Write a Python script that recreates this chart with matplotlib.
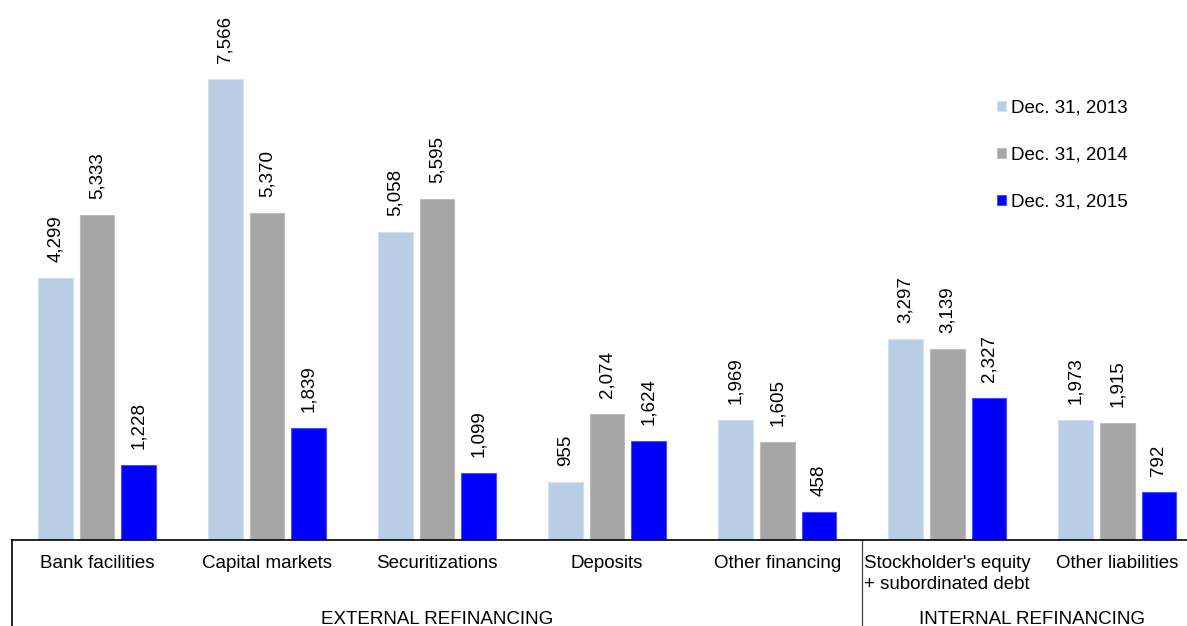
import matplotlib.pyplot as plt
import matplotlib.transforms as mtrans
from matplotlib.lines import Line2D
import numpy as np

plt.rcParams['font.family'] = ['Liberation Sans', 'DejaVu Sans']

#### Data
categories = ["Bank facilities", "Capital markets", "Securitizations", "Deposits",
              "Other financing", "Stockholder's equity\n+ subordinated debt", "Other liabilities"]
series = ["Dec. 31, 2013", "Dec. 31, 2014", "Dec. 31, 2015"]
v2013 = [4299, 7566, 5058, 955, 1969, 3297, 1973]
v2014 = [5333, 5370, 5595, 2074, 1605, 3139, 1915]
v2015 = [1228, 1839, 1099, 1624, 458, 2327, 792]
groups = ["EXTERNAL REFINANCING", "INTERNAL REFINANCING"]
group_span = [(0, 4), (5, 6)]

colors = ["#B9CDE5", "#A6A6A6", "#0000FF"]
edges = ["#D3E0F0", "#BDBDBD", "#4D4DFF"]
fs = 13.5

#### Plot
W, H = 1187, 626
fig = plt.figure(figsize=(W / 100, H / 100), dpi=100)
ax = fig.add_axes([12 / W, 86 / H, 1 - 12 / W, 540 / H])

x = np.arange(len(categories))
off = 0.245
bw = 0.204
for k, (vals, lab) in enumerate(zip([v2013, v2014, v2015], series)):
    bars = ax.bar(x + (k - 1) * off, vals, bw, color=colors[k], edgecolor=edges[k],
                  linewidth=0.8, label=lab)
    for b, v in zip(bars, vals):
        ax.annotate(f"{v:,}", (b.get_x() + b.get_width() / 2, v),
                    xytext=(0, 11.5), textcoords="offset points",
                    rotation=90, ha="center", va="bottom", fontsize=fs)

ax.set_xlim(-0.5, 6.41)
ax.set_ylim(0, 8862)
ax.set_xticks([])
ax.set_yticks([])
for s in ["top", "right", "left"]:
    ax.spines[s].set_visible(False)
ax.spines["bottom"].set_linewidth(1.2)

# category and group labels below the axis
tr = mtrans.blended_transform_factory(ax.transData, fig.transFigure)
for xi, c in zip(x, categories):
    ax.text(xi, 1 - 555 / H, c, transform=tr, ha="center", va="top",
            multialignment="left", fontsize=fs, linespacing=1.3)
for g, (a, b) in zip(groups, group_span):
    ax.text((a + b) / 2, 1 - 619 / H, g, transform=tr, ha="center", va="center", fontsize=fs)

# vertical separators
for xs, col in [(-0.5, "black"), (4.5, "#404040")]:
    ax.add_line(Line2D([xs, xs], [0, 86 / H], transform=tr, color=col,
                       lw=1.2 if xs < 0 else 0.9, clip_on=False))

ax.legend(loc="upper left", bbox_to_anchor=(988 / W, 1 - 90 / H),
          bbox_transform=fig.transFigure, frameon=False, fontsize=fs,
          handlelength=0.45, handleheight=0.45, handletextpad=0.3,
          labelspacing=1.6, borderpad=0)

fig.savefig("out.png", dpi=100, facecolor="white")
